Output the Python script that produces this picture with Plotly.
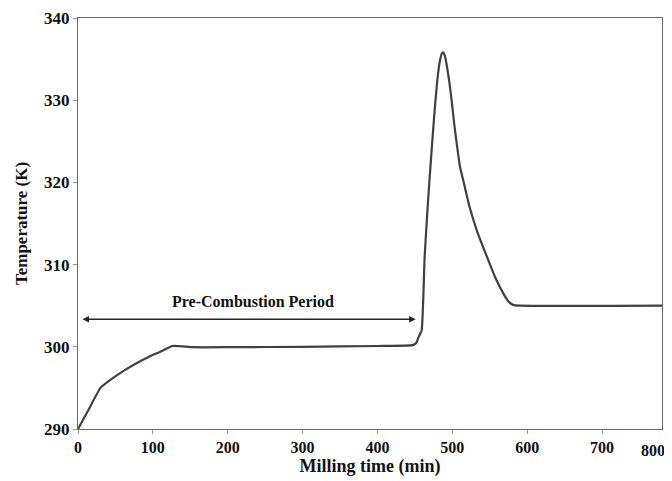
import plotly.graph_objects as go

time_min = [0, 15, 30, 45, 63, 80, 95, 110, 126, 140, 152, 200, 300, 400, 447, 452, 455, 459,
            463, 467, 470, 474, 477, 480, 483, 486, 488, 490, 493, 496, 499, 502, 505, 510, 517,
            523, 534, 546, 557, 568, 575, 581, 590, 780]
temperature_K = [290, 292.5, 295, 296.1, 297.2, 298.1, 298.8, 299.4, 300.1, 300.05, 299.95, 299.95,
                 300.0, 300.1, 300.2, 300.5, 301.2, 302, 311, 317, 321, 326, 329.5, 332.5, 334.6,
                 335.7, 335.8, 335.4, 334.0, 332.2, 330, 327.5, 325.3, 322, 319.3, 317, 313.8,
                 311, 308.5, 306.5, 305.5, 305.1, 305, 305]

x_ticks = [0, 100, 200, 300, 400, 500, 600, 700]
last_tick_label = "800"
y_ticks = [290, 300, 310, 320, 330, 340]

period_label = "Pre-Combustion Period"
period_start = 4
period_end = 451
period_y = 303.35
period_label_x = 234
period_label_y = 305.5

font_family = "Liberation Serif"

fig = go.Figure()
fig.add_trace(go.Scatter(
    x=time_min, y=temperature_K, mode="lines",
    line=dict(color="#404040", width=2.2, shape="spline", smoothing=0.4),
    showlegend=False, hoverinfo="skip",
))

fig.add_annotation(
    x=period_end, y=period_y, ax=period_start, ay=period_y,
    xref="x", yref="y", axref="x", ayref="y",
    text="", showarrow=True, arrowhead=2, arrowside="end+start",
    arrowsize=1, arrowwidth=1.3, arrowcolor="#222222",
)
fig.add_annotation(
    x=period_label_x, y=period_label_y, xref="x", yref="y",
    text="<b>" + period_label + "</b>", showarrow=False,
    font=dict(family=font_family, size=16, color="#111111"),
)
fig.add_annotation(
    x=780, y=290, xref="x", yref="y", text="<b>" + last_tick_label + "</b>",
    showarrow=False, xanchor="center", yanchor="top", xshift=-9, yshift=-11,
    font=dict(family=font_family, size=16, color="#111111"),
)

fig.update_xaxes(
    range=[0, 780], tickvals=x_ticks, ticktext=["<b>%d</b>" % v for v in x_ticks],
    showline=True, linecolor="#6a6a6a", linewidth=1.3, mirror=True,
    ticks="outside", ticklen=4, tickcolor="#9a9a9a", showgrid=False, zeroline=False,
    tickfont=dict(family=font_family, size=16, color="#111111"), automargin=False,
    title=dict(text="<b>Milling time (min)</b>", standoff=3,
               font=dict(family=font_family, size=18, color="#111111")),
)
fig.update_yaxes(
    range=[290, 340], tickvals=y_ticks, ticktext=["<b>%d</b>" % v for v in y_ticks],
    showline=True, linecolor="#6a6a6a", linewidth=1.3, mirror=True,
    ticks="outside", ticklen=4, tickcolor="#9a9a9a", showgrid=False, zeroline=False,
    tickfont=dict(family=font_family, size=17, color="#111111"), automargin=False,
    title=dict(text="<b>Temperature (K)</b>", standoff=12,
               font=dict(family=font_family, size=17, color="#111111")),
)

# the page body adds an 8px offset; sizes compensate so the plot box lands where the reference has it
fig.update_layout(
    width=664, height=473,
    margin=dict(l=70, r=10, t=10, b=52),
    paper_bgcolor="white", plot_bgcolor="white",
)

fig.write_html("out.html")
